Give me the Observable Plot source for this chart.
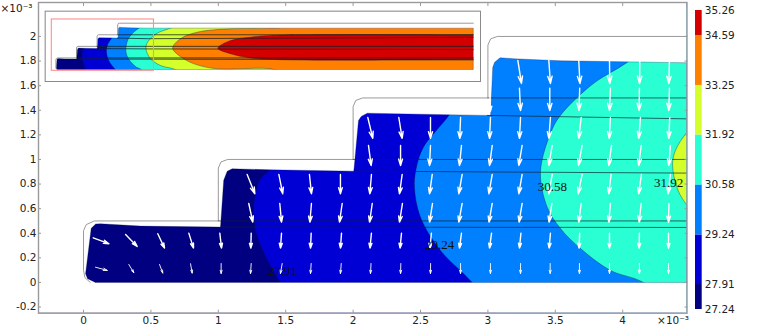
<!DOCTYPE html>
<html><head><meta charset="utf-8">
<script src="https://cdn.jsdelivr.net/npm/d3@7"></script>
<script src="https://cdn.jsdelivr.net/npm/@observablehq/plot@0.6"></script>
<style>html,body{margin:0;padding:0;background:#fff}#chart{position:relative;width:763px;height:327px;overflow:hidden}</style>
</head><body><div id="chart"></div>
<script>
// ---- values (x, y in units of 10^-3) ----
const legendLevels = [27.24, 27.91, 29.24, 30.58, 31.92, 33.25, 34.59, 35.26];
const legendColors = ["#000080", "#0000d4", "#0080ff", "#2affd4", "#d4ff2a", "#ff8000", "#d40000"];
const xTicks = [0, 0.5, 1, 1.5, 2, 2.5, 3, 3.5, 4];
const yTicks = [-0.2, 0, 0.2, 0.4, 0.6, 0.8, 1, 1.2, 1.4, 1.6, 1.8, 2];
const xEnd = 20.26;

const bodyBottom = [[0.089, 0], [xEnd, 0]];
const bodyTop = [[xEnd, 1.786], [4.473, 1.786], [3.54, 1.802], [3.19, 1.819], [3.09, 1.827], [3.05, 1.79], [3.036, 1.75],
  [3.02, 1.358], [2.995, 1.358], [2.105, 1.376], [2.06, 1.35], [2.04, 1.317], [2.005, 0.905], [1.387, 0.916], [1.103, 0.924],
  [1.066, 0.905], [1.04, 0.83], [1.016, 0.45], [0.423, 0.458], [0.126, 0.477], [0.09, 0.475], [0.057, 0.44], [0.015, 0.07], [0.03, 0.03], [0.089, 0]];
const undeformed = [[0.05, 0], [0.01, 0.04], [0, 0.1], [0, 0.42], [0.02, 0.47], [0.08, 0.5], [1, 0.5], [1, 0.93], [1.02, 0.98], [1.07, 1],
  [2, 1], [2, 1.43], [2.02, 1.48], [2.07, 1.5], [3, 1.5], [3, 1.93], [3.02, 1.98], [3.07, 2], [xEnd, 2]];
const meshLines = [
  [[1, 0.5], [xEnd, 0.5]], [[2, 1], [xEnd, 1]], [[3, 1.5], [xEnd, 1.5]],
  [[1.016, 0.45], [4.477, 0.447], [xEnd, 0.42]], [[2.005, 0.905], [4.477, 0.889], [xEnd, 0.86]], [[2.995, 1.358], [4.477, 1.33], [xEnd, 1.39]]
];
const contour2791 = [[2.2, 2.6], [1.9, 1.6], [1.5, 1.0], [1.387, 0.916], [1.313, 0.843], [1.276, 0.721], [1.263, 0.612], [1.276, 0.423], [1.32, 0.285], [1.365, 0.179], [1.461, 0], [1.7, -0.3], [1.9, -0.6]];
const contour2924 = [[2.95, 2.6], [2.85, 1.6], [2.71, 1.358], [2.522, 1.1], [2.47, 0.937], [2.455, 0.775], [2.5, 0.531], [2.648, 0.26], [2.883, 0], [3.1, -0.3], [3.3, -0.6]];
const contour3058 = [[4.6, 2.6], [4.4, 2.1], [4.033, 1.789], [3.783, 1.618], [3.538, 1.358], [3.464, 1.211], [3.39, 0.897], [3.44, 0.612], [3.538, 0.439], [3.687, 0.276], [3.909, 0.098], [4.154, 0], [4.5, -0.3], [4.7, -0.6]];
const contour3192 = [[6.5, 2.6], [6.2, 2.0], [5.56, 1.786], [4.92, 1.57], [4.59, 1.33], [4.477, 1.22], [4.39, 1.07], [4.37, 0.95], [4.41, 0.75], [4.477, 0.626], [4.59, 0.46], [5.08, 0.17], [5.8, 0], [6.3, -0.3], [6.6, -0.6]];
const contour3325 = [[11.5, 2.6], [11, 1.85], [10.2, 1.786], [8.48, 1.76], [6.86, 1.61], [6.05, 1.33], [5.67, 0.92], [6.21, 0.46], [6.86, 0.2], [7.83, 0.03], [10.6, 0], [11.2, -0.3], [11.6, -0.6]];
const contour3459 = [[25, 1.5], [xEnd, 1.5], [10.4, 1.47], [9.45, 1.395], [8.48, 1.25], [7.86, 0.92], [8.48, 0.68], [9.45, 0.5], [11.05, 0.42], [xEnd, 0.42], [25, 0.42]];
const contours = [contour2791, contour2924, contour3058, contour3192, contour3325, contour3459];

const arrowRows = [
  {y0: 1.805, y1: 1.618, x0: [3.222, 3.452, 3.674, 3.902, 4.127, 4.347], x1: [3.249, 3.464, 3.683, 3.904, 4.125, 4.342]},
  {y0: 1.58, y1: 1.398, x0: [3.234, 3.459, 3.681, 3.909, 4.124, 4.347], x1: [3.242, 3.459, 3.676, 3.902, 4.122, 4.342]},
  {y0: 1.52, y1: 1.392, x0: [3.015], x1: [3.019]},
  {y0: 1.341, y1: 1.171, x0: [2.109, 2.339, 2.574, 2.797, 3.019, 3.242, 3.464, 3.692, 3.909, 4.132, 4.349], x1: [2.146, 2.364, 2.574, 2.791, 3.012, 3.234, 3.452, 3.674, 3.9, 4.119, 4.342]},
  {y0: 1.114, y1: 0.951, x0: [2.114, 2.352, 2.574, 2.804, 3.032, 3.254, 3.477, 3.699, 3.917, 4.137, 4.354], x1: [2.134, 2.352, 2.567, 2.789, 3.012, 3.229, 3.452, 3.672, 3.897, 4.119, 4.342]},
  {y0: 0.878, y1: 0.721, x0: [1.214, 1.449, 1.676, 1.906, 2.136, 2.364, 2.587, 2.809, 3.032, 3.254, 3.477, 3.699, 3.914, 4.139, 4.354], x1: [1.271, 1.478, 1.691, 1.906, 2.124, 2.344, 2.567, 2.784, 3.007, 3.229, 3.452, 3.67, 3.897, 4.119, 4.337]},
  {y0: 0.642, y1: 0.49, x0: [1.226, 1.456, 1.691, 1.919, 2.142, 2.366, 2.589, 2.809, 3.032, 3.254, 3.475, 3.692, 3.909, 4.137, 4.343], x1: [1.256, 1.469, 1.679, 1.899, 2.122, 2.344, 2.567, 2.784, 3.008, 3.231, 3.453, 3.674, 3.897, 4.122, 4.34]},
  {y0: 0.401, y1: 0.279, x0: [1.011, 1.244, 1.469, 1.689, 1.914, 2.136, 2.359, 2.581, 2.804, 3.027, 3.245, 3.464, 3.681, 3.902, 4.124, 4.34], x1: [1.024, 1.241, 1.461, 1.684, 1.906, 2.125, 2.348, 2.57, 2.789, 3.012, 3.234, 3.454, 3.676, 3.902, 4.122, 4.34]}
];
const lowRow = {y0: 0.154, y1: 0.073, x0: [1.021, 1.244, 1.474, 1.689, 1.912, 2.133, 2.354, 2.575, 2.797, 3.019, 3.242, 3.462, 3.679, 3.902, 4.124, 4.34], x1: [1.021, 1.239, 1.461, 1.684, 1.906, 2.129, 2.352, 2.574, 2.797, 3.019, 3.242, 3.462, 3.679, 3.902, 4.124, 4.34]};
const inletUpper = [[0.072, 0.363, 0.188, 0.315], [0.312, 0.39, 0.398, 0.293], [0.551, 0.396, 0.601, 0.279], [0.781, 0.401, 0.816, 0.279]];
const inletLower = [[0.089, 0.124, 0.176, 0.098], [0.336, 0.146, 0.373, 0.079], [0.564, 0.146, 0.588, 0.076], [0.794, 0.152, 0.806, 0.076]];

const contourLabels = [
  {x: 1.476, y: 0.098, text: "27.91"}, {x: 2.641, y: 0.309, text: "29.24"},
  {x: 3.479, y: 0.775, text: "30.58"}, {x: 4.34, y: 0.813, text: "31.92"}
];
const zoomWindow = {x1: -0.2, x2: 4.76, y1: -0.056, y2: 2.16};

// ---- derived tables ----
const far = {x1: -1, x2: 25, y1: -1, y2: 3};
const bandPolygons = contours.map((c, i) => i === 5 ? c : [...c, [far.x2, -0.6], [far.x2, 2.6]]);
const whiteOutside = [[far.x1, far.y1], [far.x1, far.y2], [far.x2, far.y2], [far.x2, far.y1], [far.x1, far.y1], ...bodyBottom, ...bodyTop, [far.x1, far.y1]];
const bodyEdge = [...bodyBottom, ...bodyTop];
const rowArrows = r => r.x0.map((x, i) => [x, r.y0, r.x1[i], r.y1]);
const px = d => d[0], py = d => d[1];
const poly = (pts, o) => Plot.line(pts, {x: px, y: py, clip: true, ...o});
const grey = "#9a9a9a";

const fieldLayers = lineOpts => [
  Plot.rect([far], {x1: "x1", x2: "x2", y1: "y1", y2: "y2", fill: legendColors[0], clip: true}),
  ...bandPolygons.map((b, i) => poly(b, {fill: legendColors[i + 1], stroke: "#00134d", strokeWidth: 0.5, strokeOpacity: 0.7, curve: "catmull-rom"})),
  poly(whiteOutside, {fill: "white", stroke: "none"}),
  poly(undeformed, {stroke: grey, strokeWidth: 1}),
  ...meshLines.map(l => poly(l, {stroke: "#10202a", ...lineOpts})),
  poly(bodyEdge, {stroke: "#00134d", strokeWidth: 0.4, strokeOpacity: 0.7})
];

const chart = document.getElementById("chart");
const font = {fontFamily: "'DejaVu Sans'", fontSize: "10.5px", color: "#222"};
const arrowStyle = {x1: "0", y1: "1", x2: "2", y2: "3", stroke: "white", headAngle: 34, clip: true};

// ---- main view ----
const main = Plot.plot({
  width: 763, height: 327, marginLeft: 38, marginRight: 76.5, marginTop: 2, marginBottom: 14.3,
  x: {domain: [-0.334, 4.477]}, y: {domain: [-0.25, 2.276]},
  style: {...font, position: "absolute", left: 0, top: 0},
  marks: [
    ...fieldLayers({strokeWidth: 0.9, strokeOpacity: 0.75}),
    Plot.arrow(arrowRows.flatMap(rowArrows).concat(inletUpper), {...arrowStyle, strokeWidth: 1.4, headLength: 8}),
    Plot.arrow(rowArrows(lowRow).concat(inletLower), {...arrowStyle, strokeWidth: 0.9, headLength: 8}),
    Plot.text(contourLabels, {x: "x", y: "y", text: "text", fill: "#111", fontFamily: "'Liberation Serif'", fontSize: 13}),
    Plot.frame({stroke: grey, strokeWidth: 1.4}),
    Plot.axisX(xTicks, {anchor: "bottom", label: null, tickSize: -3, tickPadding: 6, stroke: grey, fill: "#222", tickFormat: String}),
    Plot.axisX(xTicks, {anchor: "top", label: null, tickSize: -3, stroke: grey, tickFormat: () => ""}),
    Plot.axisY(yTicks, {anchor: "left", label: null, tickSize: -3, tickPadding: 5, stroke: grey, fill: "#222", tickFormat: String}),
    Plot.axisY(yTicks, {anchor: "right", label: null, tickSize: -3, stroke: grey, tickFormat: () => ""}),
    Plot.text(["×10⁻³"], {frameAnchor: "top-left", dx: -38, dy: 2, textAnchor: "start", fill: "#222", fontSize: 10.5}),
    Plot.text(["×10⁻³"], {frameAnchor: "bottom-right", dx: 2, dy: 11, textAnchor: "end", fill: "#222", fontSize: 10.5})
  ]
});
chart.append(main);

// ---- overview inset ----
const inset = Plot.plot({
  width: 437, height: 72, marginLeft: 0.7, marginRight: 1, marginTop: 0.7, marginBottom: 1,
  x: {domain: [-0.52, 20.61], axis: null}, y: {domain: [-0.518, 2.518], axis: null},
  style: {...font, position: "absolute", left: "44px", top: "10px"},
  marks: [
    ...fieldLayers({strokeWidth: 1, strokeOpacity: 0.75}),
    Plot.rect([zoomWindow], {x1: "x1", x2: "x2", y1: "y1", y2: "y2", stroke: "#ff8f8f", fill: "none", strokeWidth: 1.1}),
    Plot.frame({stroke: "white", strokeWidth: 2}),
    Plot.frame({stroke: "#8a8a8a", strokeWidth: 1})
  ]
});
chart.append(inset);

// ---- colour legend ----
const legendBands = legendColors.map((fill, i) => ({lo: legendLevels[i], hi: legendLevels[i + 1], fill}));
const legend = Plot.plot({
  width: 75, height: 327, marginLeft: 7, marginRight: 61.3, marginTop: 10, marginBottom: 18,
  x: {domain: [0, 1], axis: null}, y: {domain: [27.24, 35.26]}, color: {type: "identity"},
  style: {...font, position: "absolute", left: "688px", top: 0, background: "transparent", fontSize: "10.5px"},
  marks: [
    Plot.rect(legendBands, {x1: 0, x2: 1, y1: "lo", y2: "hi", fill: "fill"}),
    Plot.axisY(legendLevels, {anchor: "right", label: null, tickSize: 0, tickPadding: 2.5, fill: "#222", tickFormat: d => d.toFixed(2)})
  ]
});
chart.append(legend);
</script></body></html>
